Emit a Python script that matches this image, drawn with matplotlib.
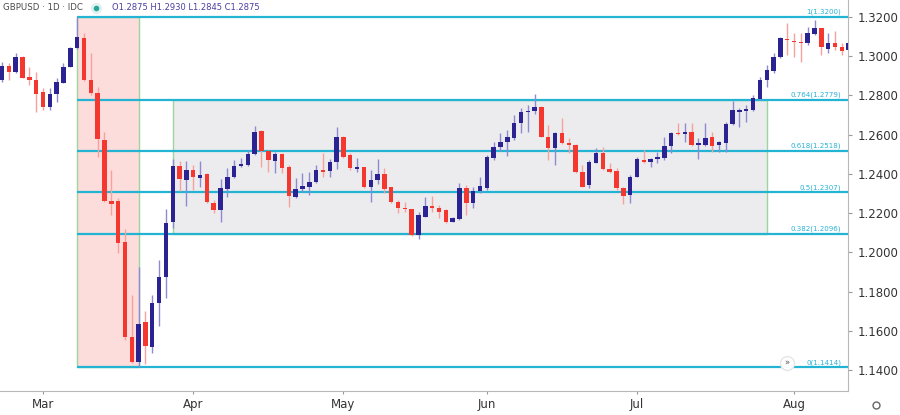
#!/usr/bin/env python3
"""
GBPUSD daily candles with a Fibonacci retracement of the March sell-off.
"""

import numpy as np
import pandas as pd
import matplotlib
matplotlib.use('Agg')
import matplotlib.pyplot as plt
from matplotlib.patches import Rectangle
from matplotlib.lines import Line2D

# ===================== Data =====================
opens = [1.2879, 1.2950, 1.2921, 1.2998, 1.2892, 1.2879,
         1.2819, 1.2743, 1.2807, 1.2865, 1.2947, 1.3040, 1.3091, 1.2879, 1.2814, 1.2573,
         1.2263, 1.2263, 1.2054, 1.1566, 1.1442, 1.1646, 1.1519, 1.1740, 1.1876, 1.2154,
         1.2443, 1.2369, 1.2420, 1.2377, 1.2398, 1.2250, 1.2216, 1.2323, 1.2382, 1.2440,
         1.2445, 1.2501, 1.2620, 1.2518, 1.2467, 1.2501, 1.2433, 1.2284, 1.2323, 1.2335,
         1.2360, 1.2420, 1.2415, 1.2462, 1.2590, 1.2496, 1.2426, 1.2433, 1.2331, 1.2370,
         1.2399, 1.2331, 1.2258, 1.2227, 1.2219, 1.2088, 1.2182, 1.2236, 1.2227, 1.2216,
         1.2156, 1.2168, 1.2326, 1.2250, 1.2313, 1.2326, 1.2479, 1.2539, 1.2564, 1.2581,
         1.2658, 1.2715, 1.2722, 1.2743, 1.2590, 1.2530, 1.2607, 1.2559, 1.2547, 1.2411,
         1.2343, 1.2457, 1.2508, 1.2423, 1.2416, 1.2326, 1.2292, 1.2386, 1.2471, 1.2462,
         1.2474, 1.2479, 1.2542, 1.2610, 1.2603, 1.2615, 1.2547, 1.2547, 1.2586, 1.2547,
         1.2556, 1.2653, 1.2717, 1.2721, 1.2726, 1.2780, 1.2879, 1.2926, 1.2994, 1.3088,
         1.3079, 1.3074, 1.3066, 1.3113, 1.3142, 1.3035, 1.3069, 1.3049, 1.3032]
highs = [1.2972, 1.2965, 1.3016, 1.3003, 1.2947, 1.2921,
         1.2838, 1.2838, 1.2889, 1.2967, 1.3049, 1.3200, 1.3117, 1.3018, 1.2841, 1.2615,
         1.2420, 1.2277, 1.2117, 1.1782, 1.1923, 1.1701, 1.1782, 1.1961, 1.2219, 1.2476,
         1.2466, 1.2467, 1.2445, 1.2467, 1.2403, 1.2267, 1.2372, 1.2430, 1.2471, 1.2479,
         1.2522, 1.2644, 1.2624, 1.2522, 1.2513, 1.2505, 1.2445, 1.2377, 1.2406, 1.2411,
         1.2445, 1.2505, 1.2474, 1.2637, 1.2593, 1.2505, 1.2479, 1.2436, 1.2420, 1.2478,
         1.2428, 1.2335, 1.2267, 1.2258, 1.2219, 1.2207, 1.2284, 1.2287, 1.2241, 1.2219,
         1.2178, 1.2355, 1.2343, 1.2335, 1.2386, 1.2496, 1.2564, 1.2610, 1.2624, 1.2700,
         1.2734, 1.2751, 1.2807, 1.2746, 1.2649, 1.2615, 1.2683, 1.2581, 1.2552, 1.2445,
         1.2471, 1.2530, 1.2539, 1.2454, 1.2428, 1.2335, 1.2394, 1.2488, 1.2522, 1.2481,
         1.2513, 1.2586, 1.2615, 1.2661, 1.2658, 1.2658, 1.2581, 1.2658, 1.2615, 1.2569,
         1.2666, 1.2773, 1.2734, 1.2751, 1.2802, 1.2896, 1.2955, 1.3015, 1.3096, 1.3168,
         1.3120, 1.3120, 1.3151, 1.3185, 1.3145, 1.3117, 1.3130, 1.3066, 1.3083]
lows = [1.2870, 1.2879, 1.2914, 1.2887, 1.2853, 1.2717,
        1.2726, 1.2726, 1.2768, 1.2862, 1.2943, 1.3037, 1.2875, 1.2802, 1.2488, 1.2256,
        1.2190, 1.1995, 1.1553, 1.1434, 1.1414, 1.1430, 1.1485, 1.1624, 1.1765, 1.2122,
        1.2313, 1.2236, 1.2318, 1.2335, 1.2250, 1.2199, 1.2156, 1.2284, 1.2377, 1.2437,
        1.2440, 1.2496, 1.2433, 1.2411, 1.2403, 1.2403, 1.2233, 1.2275, 1.2309, 1.2292,
        1.2352, 1.2386, 1.2382, 1.2423, 1.2479, 1.2420, 1.2411, 1.2326, 1.2258, 1.2350,
        1.2301, 1.2250, 1.2199, 1.2207, 1.2083, 1.2066, 1.2179, 1.2207, 1.2173, 1.2151,
        1.2155, 1.2165, 1.2190, 1.2224, 1.2301, 1.2318, 1.2471, 1.2518, 1.2491, 1.2573,
        1.2610, 1.2615, 1.2705, 1.2586, 1.2471, 1.2445, 1.2552, 1.2505, 1.2403, 1.2331,
        1.2326, 1.2454, 1.2420, 1.2403, 1.2318, 1.2246, 1.2250, 1.2382, 1.2454, 1.2437,
        1.2457, 1.2471, 1.2508, 1.2598, 1.2564, 1.2542, 1.2474, 1.2542, 1.2513, 1.2513,
        1.2513, 1.2649, 1.2641, 1.2666, 1.2722, 1.2777, 1.2841, 1.2916, 1.2989, 1.3006,
        1.2998, 1.2972, 1.3057, 1.3108, 1.3006, 1.3015, 1.3032, 1.3006, 1.3022]
closes = [1.2950, 1.2921, 1.2998, 1.2890, 1.2879, 1.2807,
          1.2743, 1.2807, 1.2868, 1.2947, 1.3043, 1.3096, 1.2879, 1.2811, 1.2576, 1.2263,
          1.2246, 1.2049, 1.1566, 1.1442, 1.1634, 1.1522, 1.1740, 1.1876, 1.2151, 1.2443,
          1.2374, 1.2420, 1.2382, 1.2394, 1.2258, 1.2216, 1.2326, 1.2382, 1.2442, 1.2450,
          1.2501, 1.2615, 1.2518, 1.2471, 1.2500, 1.2428, 1.2287, 1.2323, 1.2340, 1.2360,
          1.2420, 1.2411, 1.2462, 1.2590, 1.2488, 1.2428, 1.2433, 1.2331, 1.2370, 1.2402,
          1.2321, 1.2258, 1.2224, 1.2221, 1.2088, 1.2190, 1.2236, 1.2224, 1.2207, 1.2156,
          1.2173, 1.2326, 1.2250, 1.2313, 1.2338, 1.2484, 1.2539, 1.2564, 1.2586, 1.2661,
          1.2717, 1.2722, 1.2743, 1.2590, 1.2530, 1.2607, 1.2556, 1.2547, 1.2411, 1.2335,
          1.2462, 1.2508, 1.2423, 1.2411, 1.2326, 1.2287, 1.2386, 1.2474, 1.2462, 1.2474,
          1.2484, 1.2542, 1.2607, 1.2602, 1.2615, 1.2547, 1.2559, 1.2581, 1.2542, 1.2564,
          1.2653, 1.2726, 1.2726, 1.2729, 1.2785, 1.2879, 1.2930, 1.2994, 1.3091, 1.3081,
          1.3071, 1.3066, 1.3117, 1.3142, 1.3049, 1.3069, 1.3049, 1.3028, 1.3066]
dates = pd.bdate_range('2020-02-21', periods=len(opens))

# Fibonacci retracement of the Mar 9 high -> Mar 20 low
fib_ratios = [1, 0.764, 0.618, 0.5, 0.382, 0]
fib_prices = [1.3200, 1.2779, 1.2518, 1.2307, 1.2096, 1.1414]
swing_start, swing_end = '2020-03-09', '2020-03-20'
range_start, range_end = '2020-03-27', '2020-07-28'

price_ticks = [1.14, 1.16, 1.18, 1.20, 1.22, 1.24, 1.26, 1.28, 1.30, 1.32]

header = 'GBPUSD · 1D · IDC'
ohlc_text = 'O1.2875 H1.2930 L1.2845 C1.2875'

# ===================== Colors =====================
UP = '#2b2391'
DOWN = '#f4372f'
FIB = '#22b4d2'
BOX_EDGE = '#9ed49e'

# ===================== Plot =====================
fig = plt.figure(figsize=(9, 4.15), dpi=100)
ax = fig.add_axes([0, 0.0578, 0.9422, 0.9422])

o = np.array(opens)
h = np.array(highs)
l = np.array(lows)
c = np.array(closes)
x = np.arange(len(o))
up = c >= o

body_col = np.where(up, UP, DOWN)
wick_col = np.where(up, '#8f8ad0', '#f7a19c')
ax.vlines(x, l, h, colors=wick_col, lw=1, zorder=3)
ax.bar(x, np.maximum(np.abs(c - o), 0.0006), bottom=np.minimum(o, c),
       width=0.65, color=body_col, linewidth=0, zorder=4)

# boxes: sell-off leg (pink) and consolidation range (gray)
i_hi = dates.get_loc(pd.Timestamp(swing_start))
i_lo = dates.get_loc(pd.Timestamp(swing_end))
ax.add_patch(Rectangle((i_hi, fib_prices[-1]), i_lo - i_hi, fib_prices[0] - fib_prices[-1],
                       facecolor='#fddcdc', edgecolor=BOX_EDGE, lw=1, zorder=1))
i_rs = dates.get_loc(pd.Timestamp(range_start))
i_re = dates.get_loc(pd.Timestamp(range_end))
ax.add_patch(Rectangle((i_rs, fib_prices[4]), i_re - i_rs, fib_prices[1] - fib_prices[4],
                       facecolor='#ececef', edgecolor=BOX_EDGE, lw=1, zorder=1))

# fib levels
ax.hlines(fib_prices, i_hi, len(x) + 5, colors=FIB, lw=1.6, zorder=2)
for r, p in zip(fib_ratios, fib_prices):
    ax.text(122.9, p + 0.0008, f'{r:g}({p:.4f})', ha='right', va='bottom',
            fontsize=5.1, color='#2ab3d6', zorder=5)

# little chart-widget icon sitting on the 0 label
ax.plot([114.9], [1.1436], marker='o', ms=10, mfc='white', mec='#e6e6e6', zorder=6)
ax.text(114.9, 1.1436, '»', ha='center', va='center', fontsize=6, color='#555', zorder=7)

ax.set_xlim(-0.3, 123.9)
ax.set_ylim(1.1293, 1.3287)

# axes styling
for side in ['top', 'left']:
    ax.spines[side].set_visible(False)
for side in ['right', 'bottom']:
    ax.spines[side].set_color('#b8b8b8')

ax.yaxis.tick_right()
ax.set_yticks(price_ticks)
ax.set_yticklabels([f'{v:.4f}' for v in price_ticks])
ax.tick_params(axis='y', length=3, color='#999999', labelsize=8.5,
               labelcolor='#333333', pad=4)

month_first = [i for i in range(1, len(dates)) if dates[i].month != dates[i - 1].month]
ax.set_xticks(month_first)
ax.set_xticklabels([dates[i].strftime('%b') for i in month_first])
ax.tick_params(axis='x', length=2, color='#999999', labelsize=8.5,
               labelcolor='#333333', pad=3)

# header
fig.text(0.003, 0.981, header, fontsize=6.2, color='#4a4a4a', va='center')
fig.add_artist(Line2D([0.1067], [0.981], marker='o', ms=8, mfc='#dff1ee', mec='none',
                      transform=fig.transFigure))
fig.add_artist(Line2D([0.1067], [0.981], marker='o', ms=4, mfc='#26a69a', mec='none',
                      transform=fig.transFigure))
fig.text(0.1244, 0.981, ohlc_text, fontsize=6.0, color='#4b3f9f', va='center')

# settings icon in the corner
fig.add_artist(Line2D([0.9733], [0.0241], marker='o', ms=5, mfc='white', mec='#666666',
                      transform=fig.transFigure))

fig.savefig('out.png', dpi=100)
